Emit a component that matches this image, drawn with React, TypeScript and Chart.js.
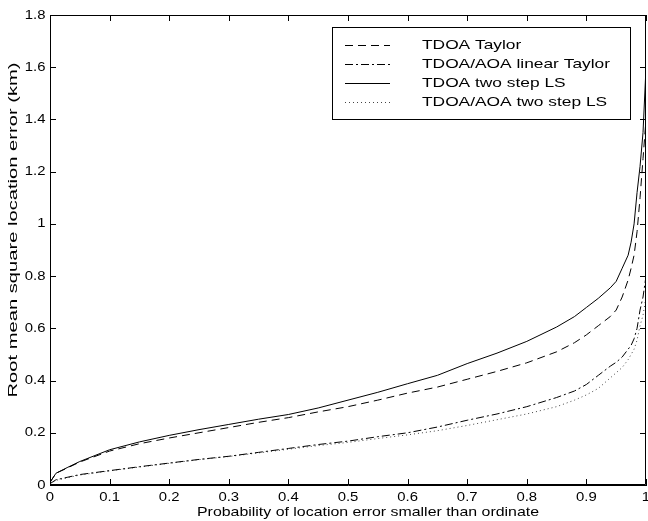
import React, { useEffect, useRef } from "react";
import { Chart, registerables } from "chart.js";

Chart.register(...registerables);

const probs = [0, 0.01, 0.03, 0.05, 0.1, 0.15, 0.2, 0.25, 0.3, 0.35, 0.4, 0.45, 0.5, 0.55, 0.6, 0.65, 0.7, 0.75, 0.8, 0.85, 0.88, 0.9, 0.92, 0.94, 0.95, 0.96, 0.97, 0.975, 0.98, 0.985, 0.99, 0.995, 1.0];

const tdoaTaylor = [0.01, 0.045, 0.066, 0.088, 0.13, 0.158, 0.18, 0.2, 0.22, 0.24, 0.258, 0.28, 0.3, 0.325, 0.352, 0.375, 0.405, 0.435, 0.468, 0.51, 0.545, 0.575, 0.61, 0.645, 0.67, 0.72, 0.785, 0.83, 0.88, 0.97, 1.1, 1.25, 1.4];

const tdoaAoaLinearTaylor = [0.005, 0.02, 0.03, 0.04, 0.055, 0.07, 0.084, 0.098, 0.11, 0.125, 0.14, 0.155, 0.168, 0.185, 0.2, 0.222, 0.248, 0.272, 0.3, 0.335, 0.36, 0.385, 0.42, 0.455, 0.47, 0.49, 0.52, 0.535, 0.56, 0.6, 0.67, 0.72, 0.8];

const tdoaTwoStepLS = [0.01, 0.045, 0.068, 0.09, 0.135, 0.165, 0.19, 0.212, 0.232, 0.252, 0.27, 0.295, 0.325, 0.355, 0.388, 0.42, 0.465, 0.505, 0.55, 0.605, 0.645, 0.68, 0.715, 0.755, 0.78, 0.83, 0.88, 0.93, 1.0, 1.12, 1.22, 1.35, 1.6];

const tdoaAoaTwoStepLS = [0.005, 0.018, 0.028, 0.038, 0.054, 0.069, 0.083, 0.097, 0.109, 0.123, 0.137, 0.151, 0.163, 0.178, 0.192, 0.208, 0.228, 0.25, 0.272, 0.3, 0.325, 0.345, 0.37, 0.41, 0.43, 0.45, 0.48, 0.5, 0.52, 0.555, 0.61, 0.65, 0.72];

const seriesLabels = ["TDOA Taylor", "TDOA/AOA linear Taylor", "TDOA two step LS", "TDOA/AOA two step LS"];
const seriesDashes: number[][] = [[8, 5], [8, 3, 2, 3], [], [1, 3]];
const seriesColors = ["#000000", "#000000", "#000000", "#444444"];

const xTitle = "Probability of location error smaller than ordinate";
const yTitle = "Root mean square location error (km)";

const FONT = '"Liberation Sans", Arial, Helvetica, sans-serif';

const fmt = (v: any) => String(Number(Number(v).toFixed(1)));

// draw text horizontally stretched so that it matches the look of the reference
function stretchedText(ctx: any, text: string, x: number, y: number, size: number, sx: number, align: string, rot = 0) {
  ctx.save();
  ctx.translate(x, y);
  if (rot) ctx.rotate(rot);
  ctx.scale(sx, 1);
  ctx.font = size + "px " + FONT;
  ctx.textAlign = align;
  ctx.textBaseline = "middle";
  ctx.fillStyle = "#000";
  ctx.fillText(text, 0, 0);
  ctx.restore();
}

function fitScale(ctx: any, text: string, size: number, target: number) {
  ctx.save();
  ctx.font = size + "px " + FONT;
  const w = ctx.measureText(text).width;
  ctx.restore();
  return target / w;
}

const boxPlugin = {
  id: "boxTicks",
  afterDraw(chart: any) {
    const ctx = chart.ctx;
    const { left, right, top, bottom } = chart.chartArea;
    const xs = chart.scales.x;
    const ys = chart.scales.y;
    ctx.save();
    ctx.strokeStyle = "#000";
    ctx.lineWidth = 1;
    ctx.beginPath();
    ctx.rect(left + 0.5, top + 0.5, right - left - 1, bottom - top - 1);
    ctx.stroke();
    const L = 6;
    ctx.beginPath();
    xs.ticks.forEach((t: any) => {
      const px = Math.round(xs.getPixelForValue(t.value)) + 0.5;
      ctx.moveTo(px, bottom);
      ctx.lineTo(px, bottom - L);
      ctx.moveTo(px, top);
      ctx.lineTo(px, top + L);
    });
    ys.ticks.forEach((t: any) => {
      const py = Math.round(ys.getPixelForValue(t.value)) + 0.5;
      ctx.moveTo(left, py);
      ctx.lineTo(left + L, py);
      ctx.moveTo(right, py);
      ctx.lineTo(right - L, py);
    });
    ctx.stroke();

    // tick labels
    const tsx = fitScale(ctx, "1.8", 13, 20.7);
    xs.ticks.forEach((t: any) => {
      const px = xs.getPixelForValue(t.value);
      stretchedText(ctx, fmt(t.value), px, bottom + 12.5, 13, tsx, "center");
    });
    ys.ticks.forEach((t: any) => {
      const py = ys.getPixelForValue(t.value);
      stretchedText(ctx, fmt(t.value), left - 4.5, py, 13, tsx, "right");
    });

    // axis titles
    const xsx = fitScale(ctx, xTitle, 13, 342);
    stretchedText(ctx, xTitle, (left + right) / 2 + 20, bottom + 27, 13, xsx, "center");
    const ysx = fitScale(ctx, yTitle, 13, 335);
    stretchedText(ctx, yTitle, 13, 230, 13, ysx, "center", -Math.PI / 2);

    // legend
    const bx = 332.5, by = 27.5, bw = 298, bh = 92;
    ctx.fillStyle = "#fff";
    ctx.fillRect(bx, by, bw, bh);
    ctx.strokeStyle = "#000";
    ctx.strokeRect(bx, by, bw, bh);
    const lsx = fitScale(ctx, seriesLabels[1], 13.5, 188);
    seriesLabels.forEach((lab, i) => {
      const y = 45 + i * 19;
      ctx.beginPath();
      ctx.setLineDash(seriesDashes[i]);
      ctx.strokeStyle = seriesColors[i];
      ctx.moveTo(345, y + 0.5);
      ctx.lineTo(390, y + 0.5);
      ctx.stroke();
      ctx.setLineDash([]);
      stretchedText(ctx, lab, 422, y + 0.5, 13.5, lsx, "left");
    });
    ctx.restore();
  },
};

export default function App() {
  const ref = useRef<HTMLCanvasElement | null>(null);
  useEffect(() => {
    document.body.style.margin = "0";
    const canvas = ref.current;
    if (!canvas) return;
    const series = [tdoaTaylor, tdoaAoaLinearTaylor, tdoaTwoStepLS, tdoaAoaTwoStepLS];
    const chart = new Chart(canvas, {
      type: "line",
      data: {
        datasets: series.map((vals, i) => ({
          label: seriesLabels[i],
          data: probs.map((p, j) => ({ x: p, y: vals[j] })),
          borderColor: seriesColors[i],
          borderWidth: 1,
          borderDash: seriesDashes[i],
          pointRadius: 0,
          fill: false,
          tension: 0,
        })),
      },
      options: {
        responsive: false,
        animation: false,
        devicePixelRatio: 1,
        layout: { padding: { top: 15, right: 2, left: 0, bottom: 0 } },
        plugins: { legend: { display: false }, tooltip: { enabled: false } },
        scales: {
          x: {
            type: "linear",
            min: 0,
            max: 1,
            afterFit: (s: any) => { s.height = 36; },
            ticks: { stepSize: 0.1, display: false, autoSkip: false },
            grid: { display: true, drawOnChartArea: false, drawTicks: false },
            border: { display: true, color: "#000", width: 1 },
          },
          y: {
            type: "linear",
            min: 0,
            max: 1.8,
            afterFit: (s: any) => { s.width = 50; },
            ticks: { stepSize: 0.2, display: false, autoSkip: false },
            grid: { display: true, drawOnChartArea: false, drawTicks: false },
            border: { display: true, color: "#000", width: 1 },
          },
        },
      } as any,
      plugins: [boxPlugin],
    });
    return () => chart.destroy();
  }, []);
  return (
    <div style={{ width: 648, height: 521 }}>
      <canvas ref={ref} width={648} height={521} style={{ display: "block" }} />
    </div>
  );
}
